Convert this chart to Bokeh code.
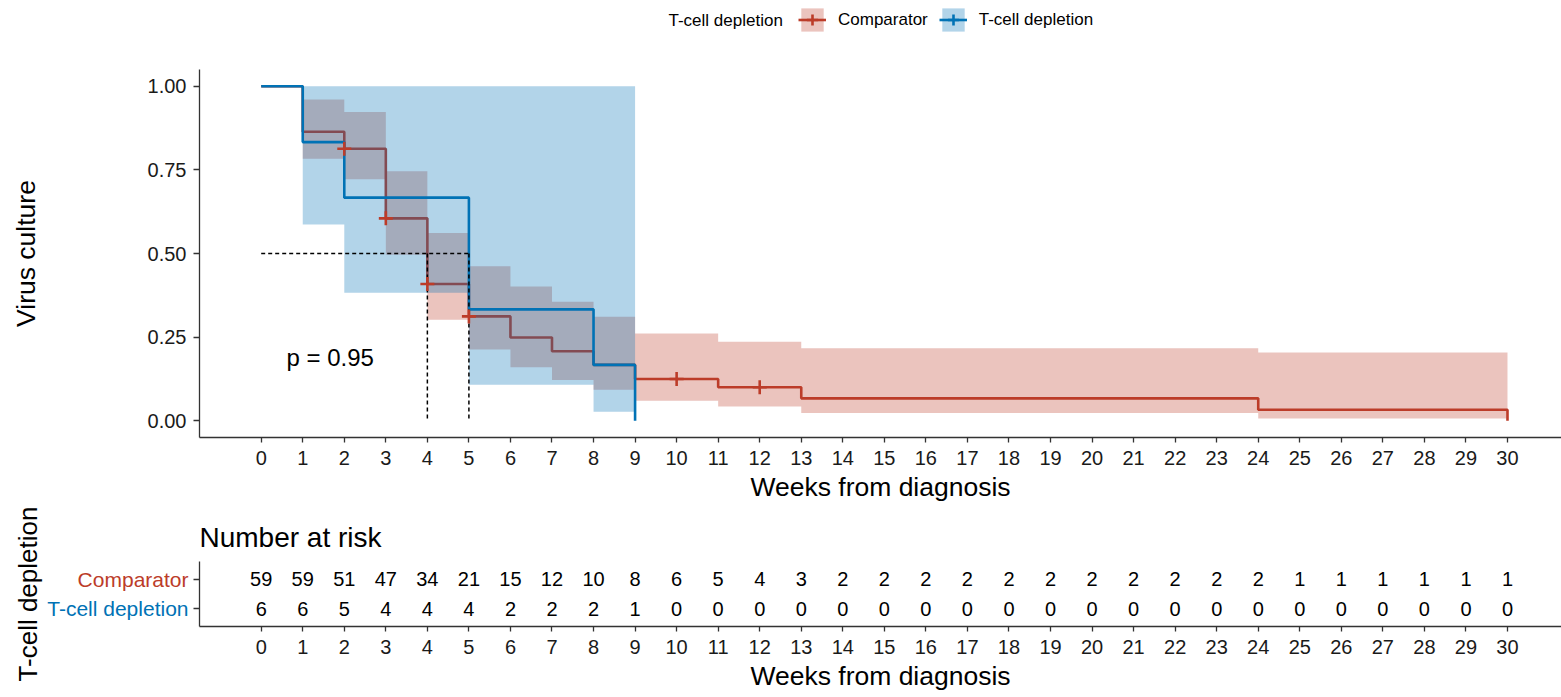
from bokeh.plotting import figure
from bokeh.models import Range1d, FixedTicker, Legend, LegendItem, Title
from bokeh.layouts import column, row
from bokeh.embed import file_html
from bokeh.resources import INLINE
from bokeh.core.properties import value

# ---------------- data ----------------
weeks = list(range(31))

comp_time = [0, 1, 2, 3, 4, 5, 6, 7, 8, 9, 11, 13, 24, 30]
comp_surv = [1.0, 0.864, 0.813, 0.605, 0.409, 0.312, 0.249, 0.208, 0.167, 0.125, 0.100, 0.067, 0.033, 0.0]
comp_lower = [1.0, 0.783, 0.722, 0.496, 0.302, 0.213, 0.160, 0.122, 0.093, 0.060, 0.043, 0.023, 0.007, 0.007]
comp_upper = [1.0, 0.960, 0.923, 0.746, 0.561, 0.462, 0.401, 0.356, 0.311, 0.261, 0.236, 0.217, 0.204, 0.204]
comp_cens_time = [2, 3, 4, 5, 10, 12]
comp_cens_surv = [0.813, 0.605, 0.409, 0.312, 0.125, 0.100]

tcd_time = [0, 1, 2, 5, 8, 9]
tcd_surv = [1.0, 0.833, 0.667, 0.333, 0.167, 0.0]
tcd_lower = [1.0, 0.587, 0.383, 0.108, 0.027, 0.027]
tcd_upper = [1.0, 1.0, 1.0, 1.0, 1.0, 1.0]

median_times = [4, 5]
p_text = "p = 0.95"

risk_comp = [59, 59, 51, 47, 34, 21, 15, 12, 10, 8, 6, 5, 4, 3, 2, 2, 2, 2, 2, 2, 2, 2, 2, 2, 2, 1, 1, 1, 1, 1, 1]
risk_tcd = [6, 6, 5, 4, 4, 4, 2, 2, 2, 1, 0, 0, 0, 0, 0, 0, 0, 0, 0, 0, 0, 0, 0, 0, 0, 0, 0, 0, 0, 0, 0]

group_labels = ["Comparator", "T-cell depletion"]
legend_title = "T-cell depletion"
y_ticks = [0, 0.25, 0.5, 0.75, 1.0]

# ---------------- style ----------------
FONT = "Liberation Sans"
RED = "#BC3C29"
BLUE = "#0072B5"
AX = "#333333"
X0, X1 = -1.485, 31.3
LW = 2.6
W = 1561
LEFT = 199
TITLE_SIZE = "26.5px"


def style_axes(fig):
    fig.outline_line_color = None
    fig.grid.visible = False
    for ax in fig.axis:
        ax.axis_line_color = AX
        ax.axis_line_width = 1.3
        ax.major_tick_line_color = AX
        ax.major_tick_line_width = 1.3
        ax.minor_tick_line_color = None
        ax.major_tick_in = 0
        ax.major_tick_out = 5
        ax.major_label_text_font = FONT
        ax.major_label_text_font_size = "20px"
        ax.major_label_text_color = "#1a1a1a"
        ax.axis_label_text_font = FONT
        ax.axis_label_text_font_size = TITLE_SIZE
        ax.axis_label_text_font_style = "normal"
        ax.axis_label_text_color = "black"
    fig.xaxis.ticker = FixedTicker(ticks=weeks)
    fig.xaxis.axis_label = "Weeks from diagnosis"
    fig.xaxis.major_label_standoff = 8
    fig.xaxis.axis_label_standoff = 4


# ---------------- legend strip (frame gets aligned to the main plot's frame) ----------------
LEG_H = 40
top = figure(width=W, height=LEG_H, x_range=Range1d(LEFT, W), y_range=Range1d(0, LEG_H),
             x_axis_type=None, y_axis_type=None, output_backend="svg", toolbar_location=None,
             min_border_left=LEFT, min_border_right=0, min_border_top=0, min_border_bottom=0)
top.outline_line_color = None
top.grid.visible = False
OFF = [-1000]  # legend-only renderers, kept outside the visible range
rb = top.quad(left=OFF, right=OFF, top=OFF, bottom=OFF, fill_color=RED, fill_alpha=0.3, line_alpha=0)
rl = top.line(OFF, OFF, line_color=RED, line_width=LW)
rc = top.scatter(OFF, OFF, marker="cross", size=14, line_color=RED, line_width=LW)
bb = top.quad(left=OFF, right=OFF, top=OFF, bottom=OFF, fill_color=BLUE, fill_alpha=0.3, line_alpha=0)
bl = top.line(OFF, OFF, line_color=BLUE, line_width=LW)
bc = top.scatter(OFF, OFF, marker="cross", size=14, line_color=BLUE, line_width=LW)
legend = Legend(items=[LegendItem(label=group_labels[0], renderers=[rb, rl, rc]),
                       LegendItem(label=group_labels[1], renderers=[bb, bl, bc])],
                location=(798 - LEFT, 6), orientation="horizontal",
                glyph_width=28, glyph_height=29, label_text_font=FONT,
                label_text_font_size="17px", label_text_color="black",
                label_standoff=12, spacing=11,
                padding=0, margin=0, border_line_alpha=0, background_fill_alpha=0)
top.add_layout(legend)
top.text(x=[668], y=[LEG_H - 20], text=[legend_title], text_font=value(FONT),
         text_font_size="17px", text_baseline="middle", text_align="left", text_color="black")

# ---------------- main survival plot ----------------
p = figure(width=W, height=465, x_range=Range1d(X0, X1), y_range=Range1d(-0.05, 1.05),
           output_backend="svg", toolbar_location=None,
           min_border_left=LEFT, min_border_right=0, min_border_top=29, min_border_bottom=68)
style_axes(p)
p.yaxis.ticker = FixedTicker(ticks=y_ticks)
p.yaxis.major_label_overrides = {t: f"{t:.2f}" for t in y_ticks}
p.yaxis.axis_label = "Virus culture"
p.yaxis.major_tick_out = 6
p.yaxis.major_label_standoff = 7
p.yaxis.axis_label_standoff = 104

p.varea_step(x=comp_time, y1=comp_lower, y2=comp_upper, step_mode="after",
             fill_color=RED, fill_alpha=0.3)
p.step(comp_time, comp_surv, mode="after", line_color=RED, line_width=LW)
p.varea_step(x=tcd_time, y1=tcd_lower, y2=tcd_upper, step_mode="after",
             fill_color=BLUE, fill_alpha=0.3)
p.step(tcd_time, tcd_surv, mode="after", line_color=BLUE, line_width=LW)

p.line([0, max(median_times)], [0.5, 0.5], line_color="black", line_dash="4 3", line_width=1.5)
p.segment(x0=median_times, y0=[0.5] * len(median_times), x1=median_times,
          y1=[0] * len(median_times), line_color="black", line_dash="4 3", line_width=1.5)

p.scatter(comp_cens_time, comp_cens_surv, marker="cross", size=14, line_color=RED, line_width=LW)

p.text(x=[0.61], y=[0.19], text=[p_text], text_font=value(FONT), text_font_size="24px",
       text_baseline="middle", text_align="left", text_color="black")

# ---------------- risk table ----------------
RISK_H = 192
R_TOP, R_BOT = 56, 71
LAB_W = 190
YR0, YR1 = 0.4, 2.6
row_pos = [2, 1]

r = figure(width=W - LAB_W, height=RISK_H, x_range=Range1d(X0, X1), y_range=Range1d(YR0, YR1),
           output_backend="svg", toolbar_location=None,
           min_border_left=LEFT - LAB_W, min_border_right=0, min_border_top=R_TOP,
           min_border_bottom=R_BOT)
style_axes(r)
# row ticks without tick labels (labels are drawn in colour beside the table)
r.yaxis.ticker = FixedTicker(ticks=[], minor_ticks=row_pos)
r.yaxis.minor_tick_line_color = AX
r.yaxis.minor_tick_line_width = 1.3
r.yaxis.minor_tick_in = 0
r.yaxis.minor_tick_out = 6
r.yaxis.major_label_standoff = 0
r.title = Title(text="Number at risk", align="left", text_font=FONT, text_font_size="28px",
                text_font_style="normal", text_color="black", standoff=18)

r.text(x=weeks + weeks, y=[row_pos[0]] * len(weeks) + [row_pos[1]] * len(weeks),
       text=[str(v) for v in risk_comp] + [str(v) for v in risk_tcd],
       text_font=value(FONT), text_font_size="20px", text_align="center",
       text_baseline="middle", text_color="black")

# strip with coloured row labels and the strata title (same vertical scale as the table)
lab = figure(width=LAB_W, height=RISK_H, x_range=Range1d(0, 1), y_range=Range1d(YR0, YR1),
             x_axis_type=None, output_backend="svg", toolbar_location=None,
             min_border_left=42, min_border_right=0, min_border_top=R_TOP, min_border_bottom=R_BOT)
lab.outline_line_color = None
lab.grid.visible = False
lab.yaxis.ticker = FixedTicker(ticks=[])
lab.yaxis.axis_line_color = None
lab.yaxis.major_tick_line_color = None
lab.yaxis.minor_tick_line_color = None
lab.yaxis.major_label_standoff = 0
lab.yaxis.major_tick_out = 0
lab.yaxis.major_tick_in = 0
lab.yaxis.axis_label = legend_title
lab.yaxis.axis_label_standoff = 0
lab.yaxis.axis_label_text_font = FONT
lab.yaxis.axis_label_text_font_size = "26px"
lab.yaxis.axis_label_text_font_style = "normal"
lab.yaxis.axis_label_text_color = "black"
lab.text(x=[1, 1], y=row_pos, text=group_labels, x_offset=-2,
         text_color=[RED, BLUE], text_font=value(FONT), text_font_size="21px",
         text_align="right", text_baseline="middle")

layout = column(top, p, row(lab, r, spacing=0), spacing=0)
open("out.html", "w").write(file_html(layout, INLINE))
